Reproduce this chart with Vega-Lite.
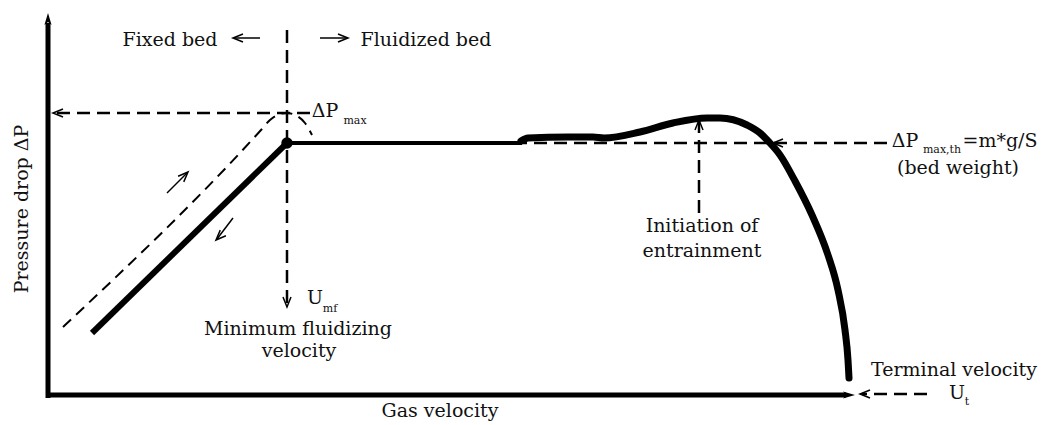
{
  "$schema": "https://vega.github.io/schema/vega-lite/v6.json",
  "width": 1042,
  "height": 425,
  "padding": 0,
  "autosize": {"type": "fit", "contains": "padding"},
  "background": "white",
  "config": {"view": {"stroke": null}},
  "datasets": {
    "paths": [
      {"path": "axisY", "i": 0, "u": 0, "p": -3},
      {"path": "axisY", "i": 1, "u": 0, "p": 372},
      {"path": "axisX", "i": 0, "u": -2, "p": 0},
      {"path": "axisX", "i": 1, "u": 798, "p": 0},
      {"path": "rise", "i": 0, "u": 44, "p": 62},
      {"path": "rise", "i": 1, "u": 239, "p": 252},
      {"path": "plateau", "i": 0, "u": 239, "p": 252},
      {"path": "plateau", "i": 1, "u": 474, "p": 252},
      {"path": "entrain", "i": 0, "u": 473, "p": 254},
      {"path": "entrain", "i": 1, "u": 480, "p": 257},
      {"path": "entrain", "i": 2, "u": 520, "p": 258},
      {"path": "entrain", "i": 3, "u": 545, "p": 258},
      {"path": "entrain", "i": 4, "u": 556, "p": 257},
      {"path": "entrain", "i": 5, "u": 592, "p": 263},
      {"path": "entrain", "i": 6, "u": 625, "p": 272},
      {"path": "entrain", "i": 7, "u": 659, "p": 277},
      {"path": "entrain", "i": 8, "u": 672, "p": 277},
      {"path": "entrain", "i": 9, "u": 699, "p": 270},
      {"path": "entrain", "i": 10, "u": 712, "p": 262},
      {"path": "entrain", "i": 11, "u": 720, "p": 254},
      {"path": "entrain", "i": 12, "u": 732, "p": 240},
      {"path": "entrain", "i": 13, "u": 747, "p": 214},
      {"path": "entrain", "i": 14, "u": 764, "p": 180},
      {"path": "entrain", "i": 15, "u": 780, "p": 140},
      {"path": "entrain", "i": 16, "u": 790, "p": 105},
      {"path": "entrain", "i": 17, "u": 797, "p": 65},
      {"path": "entrain", "i": 18, "u": 800, "p": 35},
      {"path": "entrain", "i": 19, "u": 801, "p": 17},
      {"path": "umf", "i": 0, "u": 239, "p": 365},
      {"path": "umf", "i": 1, "u": 239, "p": 90},
      {"path": "dpmax", "i": 0, "u": 262, "p": 282},
      {"path": "dpmax", "i": 1, "u": 6, "p": 282},
      {"path": "dpth", "i": 0, "u": 839, "p": 252},
      {"path": "dpth", "i": 1, "u": 474, "p": 252},
      {"path": "init", "i": 0, "u": 651, "p": 182},
      {"path": "init", "i": 1, "u": 651, "p": 273},
      {"path": "term", "i": 0, "u": 879, "p": 1},
      {"path": "term", "i": 1, "u": 814, "p": 1},
      {"path": "parallel", "i": 0, "u": 15, "p": 68},
      {"path": "parallel", "i": 1, "u": 213, "p": 265},
      {"path": "parallel", "i": 2, "u": 222, "p": 275},
      {"path": "parallel", "i": 3, "u": 232, "p": 281},
      {"path": "parallel", "i": 4, "u": 239, "p": 282},
      {"path": "parallel", "i": 5, "u": 249, "p": 279},
      {"path": "parallel", "i": 6, "u": 257, "p": 272},
      {"path": "parallel", "i": 7, "u": 264, "p": 260},
      {"path": "a1", "i": 0, "u": 119, "p": 202},
      {"path": "a1", "i": 1, "u": 139, "p": 222},
      {"path": "a2", "i": 0, "u": 185, "p": 177},
      {"path": "a2", "i": 1, "u": 169, "p": 156},
      {"path": "larr", "i": 0, "u": 212, "p": 357},
      {"path": "larr", "i": 1, "u": 186, "p": 357},
      {"path": "rarr", "i": 0, "u": 272, "p": 357},
      {"path": "rarr", "i": 1, "u": 299, "p": 357}
    ],
    "heads": [
      {"dir": "right", "u": 300, "p": 357},
      {"dir": "left", "u": 185, "p": 357},
      {"dir": "left", "u": 5, "p": 282},
      {"dir": "left", "u": 725, "p": 252},
      {"dir": "left", "u": 812, "p": 1},
      {"dir": "up", "u": 651, "p": 275},
      {"dir": "down", "u": 239, "p": 88},
      {"dir": "upright", "u": 140, "p": 223},
      {"dir": "downleft", "u": 168, "p": 155}
    ],
    "axisHeads": [
      {"dir": "up", "u": 0, "p": 382},
      {"dir": "right", "u": 807, "p": 0}
    ],
    "labels": [
      {"t": "Fixed bed", "u": 122, "p": 349},
      {"t": "Fluidized bed", "u": 378, "p": 349},
      {"t": "ΔP", "u": 277, "p": 278},
      {"t": "U", "u": 267, "p": 91},
      {"t": "Minimum fluidizing", "u": 250, "p": 60},
      {"t": "velocity", "u": 251, "p": 38},
      {"t": "Gas velocity", "u": 392, "p": -22},
      {"t": "Initiation of", "u": 654, "p": 163},
      {"t": "entrainment", "u": 654, "p": 138},
      {"t": "ΔP", "u": 857, "p": 248},
      {"t": "=m*g/S", "u": 952, "p": 248},
      {"t": "(bed weight)", "u": 910, "p": 221},
      {"t": "Terminal velocity", "u": 906, "p": 19},
      {"t": "U", "u": 909, "p": -4}
    ],
    "subs": [
      {"t": "max", "u": 307, "p": 271},
      {"t": "mf", "u": 282, "p": 83},
      {"t": "max,th", "u": 894, "p": 242},
      {"t": "t", "u": 919, "p": -10}
    ],
    "ylab": [
      {"t": "Pressure drop ΔP", "u": -26, "p": 186}
    ]
  },
  "encoding": {
    "x": {"field": "u", "type": "quantitative", "axis": null, "scale": {"domain": [-48, 994], "nice": false, "zero": false}},
    "y": {"field": "p", "type": "quantitative", "axis": null, "scale": {"domain": [-30, 395], "nice": false, "zero": false}}
  },
  "layer": [
    {
      "data": {"name": "paths"},
      "transform": [{"filter": "datum.path == 'parallel'"}],
      "mark": {"type": "line", "color": "black", "strokeWidth": 2, "strokeDash": [11, 7], "interpolate": "monotone"},
      "encoding": {"detail": {"field": "path"}, "order": {"field": "i"}}
    },
    {
      "data": {"name": "paths"},
      "transform": [{"filter": "indexof(['umf','dpmax','dpth','init','term'], datum.path) >= 0"}],
      "mark": {"type": "line", "color": "black", "strokeWidth": 2.5, "strokeDash": [13, 7]},
      "encoding": {"detail": {"field": "path"}, "order": {"field": "i"}}
    },
    {
      "data": {"name": "paths"},
      "transform": [{"filter": "indexof(['a1','a2','larr','rarr'], datum.path) >= 0"}],
      "mark": {"type": "line", "color": "black", "strokeWidth": 1.5},
      "encoding": {"detail": {"field": "path"}, "order": {"field": "i"}}
    },
    {
      "data": {"name": "paths"},
      "transform": [{"filter": "datum.path == 'axisY' || datum.path == 'axisX'"}],
      "mark": {"type": "line", "color": "black", "strokeWidth": 5, "strokeCap": "butt"},
      "encoding": {"detail": {"field": "path"}, "order": {"field": "i"}}
    },
    {
      "data": {"name": "paths"},
      "transform": [{"filter": "datum.path == 'rise'"}],
      "mark": {"type": "line", "color": "black", "strokeWidth": 6, "strokeCap": "butt"},
      "encoding": {"order": {"field": "i"}}
    },
    {
      "data": {"name": "paths"},
      "transform": [{"filter": "datum.path == 'plateau'"}],
      "mark": {"type": "line", "color": "black", "strokeWidth": 4},
      "encoding": {"order": {"field": "i"}}
    },
    {
      "data": {"name": "paths"},
      "transform": [{"filter": "datum.path == 'entrain'"}],
      "mark": {"type": "line", "color": "black", "strokeWidth": 7, "strokeCap": "round", "interpolate": "monotone"},
      "encoding": {"order": {"field": "i"}}
    },
    {
      "data": {"values": [{"u": 239, "p": 252}]},
      "mark": {"type": "point", "shape": "circle", "filled": true, "color": "black", "size": 130, "opacity": 1}
    },
    {
      "data": {"name": "heads"},
      "transform": [{"filter": "datum.dir == 'right'"}],
      "mark": {"type": "point", "shape": "M-2.5,-1L0,0L-2.5,1", "filled": false, "color": "black", "strokeWidth": 1.5, "size": 64, "angle": 0, "opacity": 1}
    },
    {
      "data": {"name": "heads"},
      "transform": [{"filter": "datum.dir == 'left'"}],
      "mark": {"type": "point", "shape": "M-2.5,-1L0,0L-2.5,1", "filled": false, "color": "black", "strokeWidth": 1.5, "size": 64, "angle": 180, "opacity": 1}
    },
    {
      "data": {"name": "heads"},
      "transform": [{"filter": "datum.dir == 'up'"}],
      "mark": {"type": "point", "shape": "M-2.5,-1L0,0L-2.5,1", "filled": false, "color": "black", "strokeWidth": 1.5, "size": 64, "angle": 270, "opacity": 1}
    },
    {
      "data": {"name": "heads"},
      "transform": [{"filter": "datum.dir == 'down'"}],
      "mark": {"type": "point", "shape": "M-2.5,-1L0,0L-2.5,1", "filled": false, "color": "black", "strokeWidth": 1.5, "size": 64, "angle": 90, "opacity": 1}
    },
    {
      "data": {"name": "heads"},
      "transform": [{"filter": "datum.dir == 'upright'"}],
      "mark": {"type": "point", "shape": "M-2.5,-1L0,0L-2.5,1", "filled": false, "color": "black", "strokeWidth": 1.5, "size": 64, "angle": 315, "opacity": 1}
    },
    {
      "data": {"name": "heads"},
      "transform": [{"filter": "datum.dir == 'downleft'"}],
      "mark": {"type": "point", "shape": "M-2.5,-1L0,0L-2.5,1", "filled": false, "color": "black", "strokeWidth": 1.5, "size": 64, "angle": 135, "opacity": 1}
    },
    {
      "data": {"name": "axisHeads"},
      "transform": [{"filter": "datum.dir == 'up'"}],
      "mark": {"type": "point", "shape": "M0,0L-2,-0.6L-1.5,0L-2,0.6Z", "filled": true, "color": "black", "size": 144, "angle": 270, "opacity": 1}
    },
    {
      "data": {"name": "axisHeads"},
      "transform": [{"filter": "datum.dir == 'right'"}],
      "mark": {"type": "point", "shape": "M0,0L-2,-0.6L-1.5,0L-2,0.6Z", "filled": true, "color": "black", "size": 144, "angle": 0, "opacity": 1}
    },
    {
      "data": {"name": "labels"},
      "mark": {"type": "text", "font": "DejaVu Serif", "fontSize": 19, "color": "#111111", "align": "center", "baseline": "alphabetic"},
      "encoding": {"text": {"field": "t"}}
    },
    {
      "data": {"name": "subs"},
      "mark": {"type": "text", "font": "DejaVu Serif", "fontSize": 11, "color": "#111111", "align": "center", "baseline": "alphabetic"},
      "encoding": {"text": {"field": "t"}}
    },
    {
      "data": {"name": "ylab"},
      "mark": {"type": "text", "font": "DejaVu Serif", "fontSize": 19, "color": "#111111", "align": "center", "baseline": "middle", "angle": 270},
      "encoding": {"text": {"field": "t"}}
    }
  ]
}
